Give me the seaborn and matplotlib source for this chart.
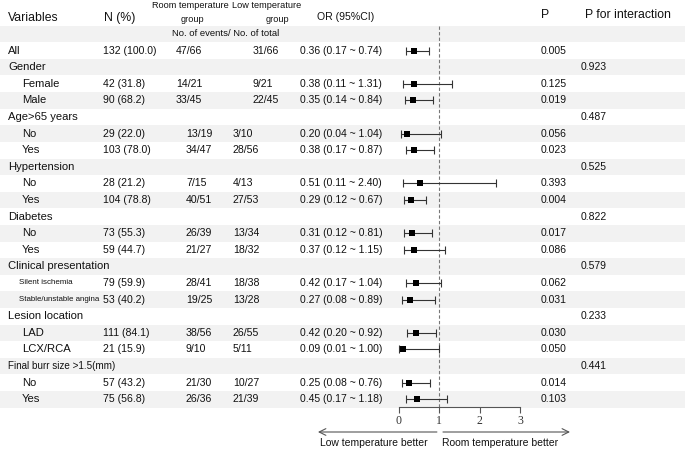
import numpy as np
import matplotlib
matplotlib.use('Agg')
import matplotlib.pyplot as plt
import seaborn as sns

labels = ['All', 'Gender', 'Female', 'Male', 'Age>65 years', 'No', 'Yes',
          'Hypertension', 'No', 'Yes', 'Diabetes', 'No', 'Yes',
          'Clinical presentation', 'Silent ischemia', 'Stable/unstable angina',
          'Lesion location', 'LAD', 'LCX/RCA', 'Final burr size >1.5(mm)', 'No', 'Yes']
n_pct = ['132 (100.0)', '', '42 (31.8)', '90 (68.2)', '', '29 (22.0)', '103 (78.0)',
         '', '28 (21.2)', '104 (78.8)', '', '73 (55.3)', '59 (44.7)',
         '', '79 (59.9)', '53 (40.2)', '', '111 (84.1)', '21 (15.9)', '', '57 (43.2)', '75 (56.8)']
room_grp = ['47/66', '', '14/21', '33/45', '', '13/19', '34/47', '', '7/15', '40/51', '',
            '26/39', '21/27', '', '28/41', '19/25', '', '38/56', '9/10', '', '21/30', '26/36']
low_grp = ['31/66', '', '9/21', '22/45', '', '3/10', '28/56', '', '4/13', '27/53', '',
           '13/34', '18/32', '', '18/38', '13/28', '', '26/55', '5/11', '', '10/27', '21/39']
or_est = [0.36, None, 0.38, 0.35, None, 0.20, 0.38, None, 0.51, 0.29, None,
          0.31, 0.37, None, 0.42, 0.27, None, 0.42, 0.09, None, 0.25, 0.45]
ci_low = [0.17, None, 0.11, 0.14, None, 0.04, 0.17, None, 0.11, 0.12, None,
          0.12, 0.12, None, 0.17, 0.08, None, 0.20, 0.01, None, 0.08, 0.17]
ci_high = [0.74, None, 1.31, 0.84, None, 1.04, 0.87, None, 2.40, 0.67, None,
           0.81, 1.15, None, 1.04, 0.89, None, 0.92, 1.00, None, 0.76, 1.18]
p_val = ['0.005', '', '0.125', '0.019', '', '0.056', '0.023', '', '0.393', '0.004', '',
         '0.017', '0.086', '', '0.062', '0.031', '', '0.030', '0.050', '', '0.014', '0.103']
p_int = ['', '0.923', '', '', '0.487', '', '', '0.525', '', '', '0.822', '', '',
         '0.579', '', '', '0.233', '', '', '0.441', '', '']
x_ticks = [0, 1, 2, 3]

sns.set_theme(style='white')
plt.rcParams['font.family'] = ['Liberation Sans', 'DejaVu Sans']

W, H = 685, 454
fig = plt.figure(figsize=(W / 100, H / 100), dpi=100)

# row k sits at pixel 34 + 16.6 k from the top
row_h = 16.6
y_top = -34 / row_h
y_bot = (H - 34) / row_h

# table layer, x in pixels
ax_t = fig.add_axes([0, 0, 1, 1])
ax_t.set_xlim(0, W)
ax_t.set_ylim(y_bot, y_top)
ax_t.axis('off')

n_rows = len(labels) + 1
for k in range(0, n_rows, 2):
    ax_t.axhspan(k - 0.5, k + 0.5, color='#f2f2f2', lw=0, zorder=0)

hdr = dict(fontsize=8.8, va='center', color='#111')
ax_t.text(8, -0.96, 'Variables', ha='left', **hdr)
ax_t.text(120, -0.96, 'N (%)', ha='center', **hdr)
ax_t.text(346, -1.03, 'OR (95%CI)', ha='center', fontsize=7.6, va='center', color='#111')
ax_t.text(545, -1.15, 'P', ha='center', **hdr)
ax_t.text(628, -1.15, 'P for interaction', ha='center', **hdr)
sub = dict(fontsize=6.6, va='center', ha='center', color='#111')
ax_t.text(190, -1.69, 'Room temperature', **sub)
ax_t.text(192, -0.9, 'group', **sub)
ax_t.text(267, -1.69, 'Low temperature', **sub)
ax_t.text(277, -0.9, 'group', **sub)
ax_t.text(226, 0, 'No. of events/ No. of total', fontsize=6.8, ha='center', va='center', color='#111')

small_labels = {'Silent ischemia': 5.8, 'Stable/unstable angina': 5.7,
                'Final burr size >1.5(mm)': 7.1}
rows = np.arange(1, len(labels) + 1)
for i, r in enumerate(rows):
    is_group = or_est[i] is None and labels[i] != 'All'
    lx = 8 if (is_group or labels[i] == 'All') else 22
    if labels[i] in ('Silent ischemia', 'Stable/unstable angina'):
        lx = 19
    fs = small_labels.get(labels[i], 8.1)
    ax_t.text(lx, r, labels[i], fontsize=fs, ha='left', va='center', color='#111')
    if is_group:
        ax_t.text(581, r, p_int[i], fontsize=7.5, ha='left', va='center', color='#111')
        continue
    first = r < 5
    ax_t.text(103, r, n_pct[i], fontsize=7.6, ha='left', va='center', color='#111')
    ax_t.text(176 if first else 186, r, room_grp[i], fontsize=7.6, ha='left', va='center', color='#111')
    ax_t.text(253 if first else 233, r, low_grp[i], fontsize=7.6, ha='left', va='center', color='#111')
    or_txt = f'{or_est[i]:.2f} ({ci_low[i]:.2f} ~ {ci_high[i]:.2f})'
    ax_t.text(300, r, or_txt, fontsize=7.5, ha='left', va='center', color='#111')
    ax_t.text(541, r, p_val[i], fontsize=7.5, ha='left', va='center', color='#111')

# forest layer, OR scale: 0 at x=399px, 40.33 px per unit
px_unit = 40.33
ax_f = fig.add_axes([0, 0, 1, 1])
ax_f.patch.set_alpha(0)

mask = [e is not None for e in or_est]
est = np.array([e for e in or_est if e is not None])
lo = np.array([c for c in ci_low if c is not None])
hi = np.array([c for c in ci_high if c is not None])
yy = rows[mask]

ax_f.errorbar(est, yy, xerr=[est - lo, hi - est], fmt='none', ecolor='#333',
              elinewidth=0.8, capsize=3, capthick=0.8, zorder=2)
sns.scatterplot(x=est, y=yy, marker='s', s=22, color='black', linewidth=0,
                ax=ax_f, legend=False, zorder=3)
ax_f.vlines(1, -0.5, 22.47, colors='#777', linestyles=(0, (3, 2)), lw=0.8, zorder=1)

ax_f.set_xlim(-399 / px_unit, (W - 399) / px_unit)
ax_f.set_ylim(y_bot, y_top)
ax_f.set_xlabel('')
ax_f.set_ylabel('')
for s in ['left', 'top', 'right']:
    ax_f.spines[s].set_visible(False)
ax_f.spines['bottom'].set_position(('data', 22.47))
ax_f.spines['bottom'].set_bounds(0, 3)
ax_f.spines['bottom'].set_color('#555')
ax_f.spines['bottom'].set_linewidth(0.8)
ax_f.set_yticks([])
ax_f.set_xticks(x_ticks)
ax_f.set_xticklabels([str(t) for t in x_ticks], family=['Liberation Serif'], fontsize=8.5, color='#333')
ax_f.tick_params(axis='x', direction='out', length=4, width=0.8, color='#555', pad=2, bottom=True)

arrow_y = (432 - 34) / row_h
text_y = (443 - 34) / row_h
ax_f.annotate('', xy=(-2.01, arrow_y), xytext=(0.94, arrow_y), annotation_clip=False,
              arrowprops=dict(arrowstyle='->', color='#555', lw=0.8, shrinkA=0, shrinkB=0))
ax_f.annotate('', xy=(4.24, arrow_y), xytext=(1.09, arrow_y), annotation_clip=False,
              arrowprops=dict(arrowstyle='->', color='#555', lw=0.8, shrinkA=0, shrinkB=0))
ax_f.text(-0.63, text_y, 'Low temperature better', fontsize=7.5, ha='center', va='center', color='#111')
ax_f.text(1.07, text_y, 'Room temperature better', fontsize=7.5, ha='left', va='center', color='#111')

fig.savefig('out.png', dpi=100)
